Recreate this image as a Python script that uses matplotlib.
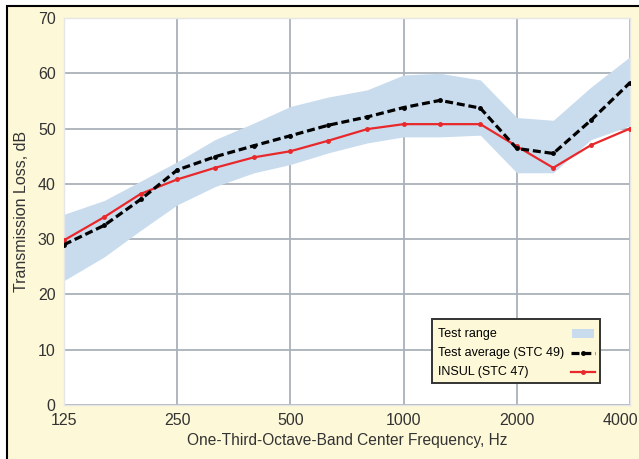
import matplotlib.pyplot as plt
from matplotlib.patches import Rectangle
from matplotlib.transforms import ScaledTranslation

# one-third-octave band centres, Hz
freqs = [125, 160, 200, 250, 315, 400, 500, 630, 800, 1000, 1250, 1600, 2000, 2500, 3150, 4000]

range_low = [22.5, 26.8, 31.6, 36.2, 39.5, 42.0, 43.5, 45.6, 47.4, 48.5, 48.5, 48.8, 42.0, 42.0, 48.0, 50.5]
range_high = [34.5, 37.0, 40.5, 44.0, 48.0, 51.0, 54.0, 55.7, 57.0, 59.7, 60.0, 58.8, 52.0, 51.5, 57.5, 63.0]
test_avg = [29.0, 32.5, 37.2, 42.5, 44.9, 46.9, 48.7, 50.6, 52.1, 53.8, 55.1, 53.7, 46.4, 45.5, 51.5, 58.3]
insul = [29.8, 34.0, 38.2, 40.8, 42.9, 44.8, 45.9, 47.8, 49.9, 50.8, 50.8, 50.8, 46.8, 42.9, 47.0, 50.0]

xticks = [125, 250, 500, 1000, 2000, 4000]
yticks = [0, 10, 20, 30, 40, 50, 60, 70]
labels = ['Test range', 'Test average (STC 49)', 'INSUL (STC 47)']

cream = '#fdf8d8'
band_col = '#c9dcee'
grid_col = '#a9b1ba'
text_col = '#333333'
red = '#e8282a'
dash = (0, (2.5, 1.2))

plt.rcParams['font.family'] = ['Liberation Sans', 'DejaVu Sans']

fig = plt.figure(figsize=(6.39, 4.59), dpi=100)
fig.patch.set_facecolor('white')
# cream panel with black frame at top and left
fig.patches.append(Rectangle((7 / 639, -0.05), 1.1, 1 - 6 / 459 + 0.05,
                             transform=fig.transFigure, facecolor=cream,
                             edgecolor='black', linewidth=1.5, zorder=-1))

ax = fig.add_axes([64 / 639, 1 - 405 / 459, (630 - 64) / 639, (405 - 18) / 459])
ax.set_facecolor('white')

ax.fill_between(freqs, range_low, range_high, color=band_col, linewidth=0, zorder=1)
ax.plot(freqs, insul, color=red, linewidth=1.6, marker='o', markersize=2.5, zorder=3)
ax.plot(freqs, test_avg, color='black', linewidth=2.3, linestyle=dash,
        marker='o', markersize=2.5, zorder=4)

ax.set_xscale('log', base=2)
ax.set_xlim(125, 4000)
ax.set_ylim(0, 70)
ax.set_xticks(xticks)
ax.set_xticklabels([str(t) for t in xticks])
ax.minorticks_off()
ax.set_yticks(yticks)
ax.tick_params(length=0, labelsize=11.5, colors=text_col, pad=6)
ax.grid(True, color=grid_col, linewidth=1.3)
ax.set_axisbelow(True)
for s in ax.spines.values():
    s.set_color('#e6e6e6')
    s.set_linewidth(1)

# last x label pulled in so it stays inside the picture
last = ax.get_xticklabels()[-1]
last.set_transform(last.get_transform() + ScaledTranslation(-10 / 100, 0, fig.dpi_scale_trans))

ax.set_xlabel('One-Third-Octave-Band Center Frequency, Hz', fontsize=11.2, color=text_col, labelpad=3)
ax.set_ylabel('Transmission Loss, dB', fontsize=11.5, color=text_col, labelpad=6)

# legend box drawn by hand: labels left, keys right
ax.add_patch(Rectangle((0.651, 0.056), 0.296, 0.166, transform=ax.transAxes,
                       facecolor=cream, edgecolor='#333333', linewidth=1.4, zorder=10))
rows = [0.184, 0.134, 0.085]
for lab, yy in zip(labels, rows):
    ax.text(0.661, yy, lab, transform=ax.transAxes, ha='left', va='center',
            fontsize=9, color='black', zorder=11)
ax.add_patch(Rectangle((0.897, rows[0] - 0.012), 0.04, 0.024, transform=ax.transAxes,
                       facecolor=band_col, edgecolor='none', zorder=11))
ax.plot([0.895, 0.917, 0.939], [rows[1]] * 3, transform=ax.transAxes, color='black',
        linewidth=2.3, linestyle=dash, marker='o', markersize=2.5, markevery=[1],
        zorder=11, clip_on=False)
ax.plot([0.895, 0.917, 0.939], [rows[2]] * 3, transform=ax.transAxes, color=red,
        linewidth=1.6, marker='o', markersize=2.5, markevery=[1], zorder=11, clip_on=False)

fig.savefig('out.png', dpi=100, facecolor=fig.get_facecolor())
